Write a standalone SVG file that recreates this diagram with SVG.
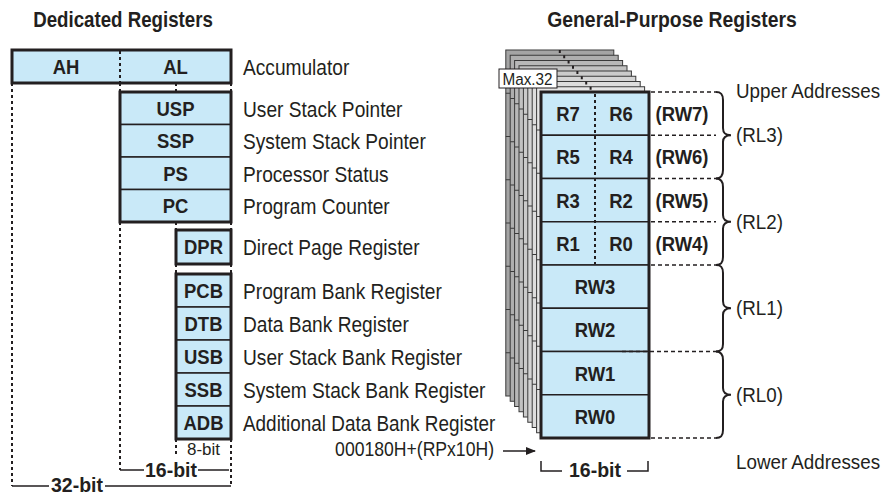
<svg xmlns="http://www.w3.org/2000/svg" width="896" height="495" viewBox="0 0 896 495">
<defs>
<style>
.bg{fill:#fff}
.cell{fill:#c9e9f8;stroke:#231f20;stroke-width:1.5}
.frame{fill:none;stroke:#231f20;stroke-width:3}
.b{font-family:"Liberation Sans",Arial,sans-serif;font-weight:bold;font-size:21px;fill:#231f20;text-anchor:middle}
.r{font-family:"Liberation Sans",Arial,sans-serif;font-size:22px;fill:#231f20}
.rr{font-family:"Liberation Sans",Arial,sans-serif;font-size:20px;fill:#231f20}
.s{font-family:"Liberation Sans",Arial,sans-serif;font-size:17px;fill:#231f20}
.t{font-family:"Liberation Sans",Arial,sans-serif;font-weight:bold;font-size:22px;fill:#231f20;text-anchor:middle}
.d{fill:none;stroke:#231f20;stroke-width:2;stroke-dasharray:3 3}
.dh{fill:none;stroke:#231f20;stroke-width:1.5;stroke-dasharray:4 3}
.ln{fill:none;stroke:#231f20;stroke-width:1.5}
.br{fill:none;stroke:#231f20;stroke-width:2}
.ly{stroke:#3a3a3a;stroke-width:1}
.lr{stroke:#3a3a3a;stroke-width:1}
</style>
<marker id="ah" markerWidth="10" markerHeight="8" refX="9" refY="4" orient="auto" markerUnits="userSpaceOnUse">
<path d="M0,0 L10,4 L0,8 Z" fill="#231f20"/>
</marker>
</defs>
<rect class="bg" x="0" y="0" width="896" height="495"/>

<text class="t" transform="translate(123,27) scale(.85,1)">Dedicated Registers</text>
<text class="t" transform="translate(672,27) scale(.88,1)">General-Purpose Registers</text>

<!-- Left connectors / dimension lines -->
<g id="left-guides">
<path class="d" d="M12,83 V486"/>
<path class="d" d="M120,83 V92 M120,222 V470"/>
<path class="d" d="M176,83 V92 M176,222 V230 M176,264 V274 M176,439 V457"/>
<path class="d" d="M231,83 V92 M231,222 V230 M231,264 V274 M231,439 V486"/>
<path class="ln" d="M12,486 H49 M105,486 H231"/>
<path class="ln" d="M120,470 H144 M198,470 H229"/>
<text class="b" transform="translate(77,492) scale(.93,1)">32-bit</text>
<text class="b" transform="translate(171,477) scale(.93,1)">16-bit</text>
<text class="s" text-anchor="middle" transform="translate(203.5,455)">8-bit</text>
</g>

<g id="accumulator">
<rect class="cell" x="12" y="50" width="219" height="33"/>
<path class="d" d="M120,51 V82"/>
<rect class="frame" x="12" y="50" width="219" height="33"/>
<text class="b" transform="translate(66,74) scale(.88,1)">AH</text>
<text class="b" transform="translate(175.5,74) scale(.88,1)">AL</text>
<text class="r" transform="translate(243,75) scale(.87,1)">Accumulator</text>
</g>

<g id="usp"><rect class="cell" x="120" y="92" width="111" height="32.5"/><text class="b" transform="translate(175.5,115.5) scale(.88,1)">USP</text><text class="r" transform="translate(243,116.5) scale(.87,1)">User Stack Pointer</text></g>
<g id="ssp"><rect class="cell" x="120" y="124.5" width="111" height="32.5"/><text class="b" transform="translate(175.5,148) scale(.88,1)">SSP</text><text class="r" transform="translate(243,149) scale(.87,1)">System Stack Pointer</text></g>
<g id="ps"><rect class="cell" x="120" y="157" width="111" height="32.5"/><text class="b" transform="translate(175.5,180.5) scale(.88,1)">PS</text><text class="r" transform="translate(243,181.5) scale(.87,1)">Processor Status</text></g>
<g id="pc"><rect class="cell" x="120" y="189.5" width="111" height="32.5"/><text class="b" transform="translate(175.5,212.5) scale(.88,1)">PC</text><text class="r" transform="translate(243,213.5) scale(.87,1)">Program Counter</text></g>
<rect class="frame" x="120" y="92" width="111" height="130"/>

<g id="dpr"><rect class="cell" x="176" y="230" width="55" height="34"/><rect class="frame" x="176" y="230" width="55" height="34"/><text class="b" transform="translate(203.5,254) scale(.88,1)">DPR</text><text class="r" transform="translate(243,255) scale(.87,1)">Direct Page Register</text></g>

<g id="pcb"><rect class="cell" x="176" y="274" width="55" height="33"/><text class="b" transform="translate(203.5,297.5) scale(.88,1)">PCB</text><text class="r" transform="translate(243,298.5) scale(.87,1)">Program Bank Register</text></g>
<g id="dtb"><rect class="cell" x="176" y="307" width="55" height="33"/><text class="b" transform="translate(203.5,330.5) scale(.88,1)">DTB</text><text class="r" transform="translate(243,331.5) scale(.87,1)">Data Bank Register</text></g>
<g id="usb"><rect class="cell" x="176" y="340" width="55" height="33"/><text class="b" transform="translate(203.5,363.5) scale(.88,1)">USB</text><text class="r" transform="translate(243,364.5) scale(.87,1)">User Stack Bank Register</text></g>
<g id="ssb"><rect class="cell" x="176" y="373" width="55" height="33"/><text class="b" transform="translate(203.5,396.5) scale(.88,1)">SSB</text><text class="r" transform="translate(243,397.5) scale(.87,1)">System Stack Bank Register</text></g>
<g id="adb"><rect class="cell" x="176" y="406" width="55" height="33"/><text class="b" transform="translate(203.5,429.5) scale(.88,1)">ADB</text><text class="r" transform="translate(243,430.5) scale(.86,1)">Additional Data Bank Register</text></g>
<rect class="frame" x="176" y="274" width="55" height="165"/>

<!-- Stacked register banks -->
<g id="banks">
<g transform="translate(-35.2,-42)"><rect class="ly" x="541" y="92" width="108" height="346" fill="#a4a4a4"/><path class="lr" d="M541,135.25h108M541,178.5h108M541,221.75h108M541,265h108M541,308.25h108M541,351.5h108M541,394.75h108"/><path class="d" stroke-width="1" d="M595,92v173"/></g>
<g transform="translate(-30.8,-36.75)"><rect class="ly" x="541" y="92" width="108" height="346" fill="#aeaeae"/><path class="lr" d="M541,135.25h108M541,178.5h108M541,221.75h108M541,265h108M541,308.25h108M541,351.5h108M541,394.75h108"/><path class="d" stroke-width="1" d="M595,92v173"/></g>
<g transform="translate(-26.4,-31.5)"><rect class="ly" x="541" y="92" width="108" height="346" fill="#b8b8b8"/><path class="lr" d="M541,135.25h108M541,178.5h108M541,221.75h108M541,265h108M541,308.25h108M541,351.5h108M541,394.75h108"/><path class="d" stroke-width="1" d="M595,92v173"/></g>
<g transform="translate(-22,-26.25)"><rect class="ly" x="541" y="92" width="108" height="346" fill="#c2c2c2"/><path class="lr" d="M541,135.25h108M541,178.5h108M541,221.75h108M541,265h108M541,308.25h108M541,351.5h108M541,394.75h108"/><path class="d" stroke-width="1" d="M595,92v173"/></g>
<g transform="translate(-17.6,-21)"><rect class="ly" x="541" y="92" width="108" height="346" fill="#cbcbcb"/><path class="lr" d="M541,135.25h108M541,178.5h108M541,221.75h108M541,265h108M541,308.25h108M541,351.5h108M541,394.75h108"/><path class="d" stroke-width="1" d="M595,92v173"/></g>
<g transform="translate(-13.2,-15.75)"><rect class="ly" x="541" y="92" width="108" height="346" fill="#d4d4d4"/><path class="lr" d="M541,135.25h108M541,178.5h108M541,221.75h108M541,265h108M541,308.25h108M541,351.5h108M541,394.75h108"/><path class="d" stroke-width="1" d="M595,92v173"/></g>
<g transform="translate(-8.8,-10.5)"><rect class="ly" x="541" y="92" width="108" height="346" fill="#dddddd"/><path class="lr" d="M541,135.25h108M541,178.5h108M541,221.75h108M541,265h108M541,308.25h108M541,351.5h108M541,394.75h108"/><path class="d" stroke-width="1" d="M595,92v173"/></g>
<g transform="translate(-4.4,-5.25)"><rect class="ly" x="541" y="92" width="108" height="346" fill="#e6e6e6"/><path class="lr" d="M541,135.25h108M541,178.5h108M541,221.75h108M541,265h108M541,308.25h108M541,351.5h108M541,394.75h108"/><path class="d" stroke-width="1" d="M595,92v173"/></g>
</g>

<g id="max32">
<rect x="499" y="69" width="58" height="19" fill="#fff" stroke="#231f20" stroke-width="1"/>
<text class="s" text-anchor="middle" font-size="18" transform="translate(527.5,85) scale(.9,1)">Max.32</text>
</g>

<!-- Front register bank -->
<g id="rw7"><rect class="cell" x="541" y="92" width="108" height="43.25"/><text class="b" transform="translate(568,121) scale(.88,1)">R7</text><text class="b" transform="translate(621,121) scale(.88,1)">R6</text><text class="b" transform="translate(682,121) scale(.88,1)">(RW7)</text></g>
<g id="rw6"><rect class="cell" x="541" y="135.25" width="108" height="43.25"/><text class="b" transform="translate(568,164.3) scale(.88,1)">R5</text><text class="b" transform="translate(621,164.3) scale(.88,1)">R4</text><text class="b" transform="translate(682,164.3) scale(.88,1)">(RW6)</text></g>
<g id="rw5"><rect class="cell" x="541" y="178.5" width="108" height="43.25"/><text class="b" transform="translate(568,207.6) scale(.88,1)">R3</text><text class="b" transform="translate(621,207.6) scale(.88,1)">R2</text><text class="b" transform="translate(682,207.6) scale(.88,1)">(RW5)</text></g>
<g id="rw4"><rect class="cell" x="541" y="221.75" width="108" height="43.25"/><text class="b" transform="translate(568,250.9) scale(.88,1)">R1</text><text class="b" transform="translate(621,250.9) scale(.88,1)">R0</text><text class="b" transform="translate(682,250.9) scale(.88,1)">(RW4)</text></g>
<g id="rw3"><rect class="cell" x="541" y="265" width="108" height="43.25"/><text class="b" transform="translate(595,294.1) scale(.88,1)">RW3</text></g>
<g id="rw2"><rect class="cell" x="541" y="308.25" width="108" height="43.25"/><text class="b" transform="translate(595,337.4) scale(.88,1)">RW2</text></g>
<g id="rw1"><rect class="cell" x="541" y="351.5" width="108" height="43.25"/><text class="b" transform="translate(595,380.6) scale(.88,1)">RW1</text></g>
<g id="rw0"><rect class="cell" x="541" y="394.75" width="108" height="43.25"/><text class="b" transform="translate(595,423.9) scale(.88,1)">RW0</text></g>
<path class="d" d="M595,94 V264"/>
<rect class="frame" x="541" y="92" width="108" height="346"/>

<!-- Right connectors -->
<g id="right-guides">
<path class="dh" d="M651,92 H716 M651,135.25 H716 M651,178.5 H716 M651,221.75 H716 M651,265 H716 M622,351.5 H716 M651,438 H716"/>
<path class="br" d="M716,92 C721,92 723,94 723,100 L723,128 C723,133 725,135.25 731,135.25 C725,135.25 723,137.5 723,142 L723,170 C723,176 721,178.5 716,178.5"/>
<path class="br" d="M716,178.5 C721,178.5 723,181 723,187 L723,215 C723,219.5 725,221.75 731,221.75 C725,221.75 723,224 723,228.5 L723,257 C723,263 721,265 716,265"/>
<path class="br" d="M716,265 C721,265 723,267 723,273 L723,301 C723,306 725,308.25 731,308.25 C725,308.25 723,310.5 723,315 L723,344 C723,349.5 721,351.5 716,351.5"/>
<path class="br" d="M716,351.5 C721,351.5 723,354 723,360 L723,388 C723,392.5 725,394.75 731,394.75 C725,394.75 723,397 723,401.5 L723,430 C723,436 721,438 716,438"/>
<text class="rr" transform="translate(736,98) scale(.94,1)">Upper Addresses</text>
<text class="rr" transform="translate(736,142) scale(.94,1)">(RL3)</text>
<text class="rr" transform="translate(736,228.5) scale(.94,1)">(RL2)</text>
<text class="rr" transform="translate(736,315) scale(.94,1)">(RL1)</text>
<text class="rr" transform="translate(736,402) scale(.94,1)">(RL0)</text>
<text class="rr" transform="translate(736,469) scale(.94,1)">Lower Addresses</text>
<text class="rr" text-anchor="end" font-size="20" transform="translate(494,456) scale(.88,1)">000180H+(RPx10H)</text>
<path class="ln" d="M503,451 H535" marker-end="url(#ah)"/>
<path class="ln" d="M541,461 V471 H562 M627,471 H648 V461"/>
<text class="b" transform="translate(595,477) scale(.93,1)">16-bit</text>
</g>
</svg>
